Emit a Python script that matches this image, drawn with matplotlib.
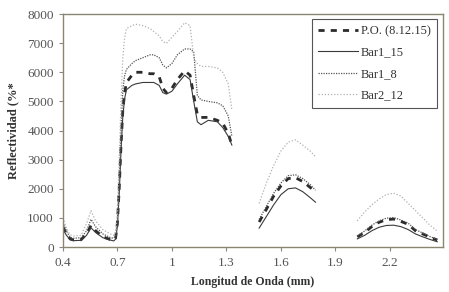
import numpy as np
import matplotlib
matplotlib.use("Agg")
import matplotlib.pyplot as plt

# ======================== data
nan = np.nan

wl = [0.40, 0.42, 0.44, 0.46, 0.50, 0.53, 0.555, 0.58, 0.62, 0.66, 0.68, 0.69,
      0.70, 0.71, 0.72, 0.73, 0.74, 0.75, 0.78, 0.80, 0.84, 0.88, 0.90, 0.93,
      0.95, 0.97, 1.00, 1.03, 1.07, 1.10, 1.12, 1.14, 1.16, 1.20, 1.25, 1.28,
      1.31, 1.33,
      nan,
      1.48, 1.52, 1.56, 1.60, 1.64, 1.68, 1.72, 1.76, 1.79,
      nan,
      2.02, 2.06, 2.10, 2.14, 2.18, 2.22, 2.26, 2.30, 2.34, 2.38, 2.42, 2.46]

po = [700, 450, 280, 240, 250, 450, 740, 560, 350, 260, 230, 300,
      800, 2000, 3500, 4700, 5300, 5650, 5900, 6000, 6000, 5950, 5950, 5850,
      5450, 5300, 5450, 5750, 6050, 5900, 5200, 4550, 4450, 4450, 4350, 4250,
      3900, 3500,
      nan,
      860, 1300, 1750, 2100, 2350, 2380, 2250, 2050, 1900,
      nan,
      350, 500, 700, 850, 940, 960, 880, 780, 560, 450, 340, 240]

bar1_15 = [620, 400, 250, 220, 230, 400, 660, 500, 320, 240, 210, 270,
           700, 1800, 3300, 4500, 5100, 5400, 5550, 5600, 5650, 5650, 5650, 5550,
           5300, 5250, 5350, 5600, 5900, 5750, 5000, 4300, 4200, 4350, 4300, 4100,
           3800, 3500,
           nan,
           650, 1050, 1450, 1800, 2000, 2030, 1900, 1700, 1540,
           nan,
           280, 400, 560, 680, 740, 750, 700, 600, 450, 350, 260, 180]

bar1_8 = [850, 550, 330, 300, 320, 550, 950, 700, 450, 330, 300, 380,
          900, 2300, 4000, 5400, 5900, 6100, 6300, 6400, 6500, 6600, 6600, 6500,
          6250, 6150, 6300, 6600, 6800, 6800, 6700, 5200, 5050, 5000, 4950, 4850,
          4500, 3800,
          nan,
          950, 1400, 1850, 2200, 2450, 2480, 2350, 2150, 1950,
          nan,
          380, 550, 750, 900, 990, 1010, 930, 820, 600, 480, 360, 260]

bar2_12 = [1000, 650, 420, 380, 400, 800, 1250, 900, 600, 450, 400, 500,
           1200, 3000, 5000, 6500, 7200, 7500, 7600, 7650, 7600, 7500, 7400, 7250,
           7050, 7000, 7200, 7400, 7700, 7600, 6500, 6300, 6200, 6200, 6150, 6000,
           5600, 4700,
           nan,
           1500, 2200, 2800, 3300, 3600, 3680, 3500, 3300, 3100,
           nan,
           900, 1200, 1450, 1650, 1800, 1850, 1750, 1500, 1250, 1000, 750, 550]

xticks = [0.4, 0.7, 1.0, 1.3, 1.6, 1.9, 2.2]
xticklabels = ["0.4", "0.7", "1", "1.3", "1.6", "1.9", "2.2"]
yticks = [0, 1000, 2000, 3000, 4000, 5000, 6000, 7000, 8000]

# ======================== plot
plt.rcParams["font.family"] = ["Liberation Serif", "DejaVu Serif"]

fig = plt.figure(figsize=(4.49, 2.92), dpi=100)
ax = fig.add_axes([0.14, 0.154, 0.846, 0.798])

ax.plot(wl, po, color="#2b2b2b", lw=2.0, ls=(0, (2.2, 2.2)), label="P.O. (8.12.15)")
ax.plot(wl, bar1_15, color="#3a3a3a", lw=0.8, ls="-", label="Bar1_15")
ax.plot(wl, bar1_8, color="#555555", lw=0.9, ls=(0, (1, 1)), label="Bar1_8")
ax.plot(wl, bar2_12, color="#b0b0b0", lw=0.9, ls=(0, (1, 1.5)), label="Bar2_12")

ax.set_xlim(0.4, 2.49)
ax.set_ylim(0, 8000)
ax.set_xticks(xticks)
ax.set_xticklabels(xticklabels)
ax.set_yticks(yticks)
ax.tick_params(axis="both", labelsize=9.5, labelcolor="#555555", color="#888888",
               direction="out", length=3, width=0.8)
ax.tick_params(axis="x", pad=4)

for s in ax.spines.values():
    s.set_color("#8a8570")
    s.set_linewidth(1.0)

ax.set_xlabel("Longitud de Onda (mm)", fontsize=8.5, fontweight="bold", color="#333333", labelpad=5)
ax.set_ylabel("Reflectividad (%*", fontsize=9, fontweight="bold", color="#333333", labelpad=6)

leg = ax.legend(loc="upper right", bbox_to_anchor=(0.984, 0.979), borderaxespad=0,
                fontsize=9, frameon=True, fancybox=False, framealpha=1,
                edgecolor="#555555", handlelength=3.2, handletextpad=0.2,
                labelspacing=0.75, borderpad=0.5)
leg.get_frame().set_linewidth(0.8)
for t in leg.get_texts():
    t.set_color("#333333")

plt.savefig("out.png", dpi=100)
